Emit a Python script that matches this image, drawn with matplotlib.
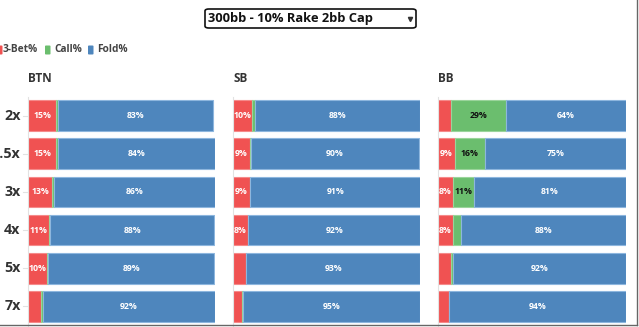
import matplotlib
matplotlib.use("Agg")
import matplotlib.pyplot as plt
from matplotlib.patches import FancyBboxPatch
from matplotlib.lines import Line2D

W, H = 639, 327
DPI = 100

sizes = ['2x', '2.5x', '3x', '4x', '5x', '7x']
positions = ['BTN', 'SB', 'BB']

btn_3bet = [15, 15, 13, 11, 10, 7]
btn_call = [1, 1, 1, 0.7, 0.7, 0.8]
btn_fold = [83, 84, 86, 88, 89, 92]

sb_3bet = [10, 9, 9, 8, 7, 5]
sb_call = [2, 0.6, 0.3, 0.2, 0.2, 0.1]
sb_fold = [88, 90, 91, 92, 93, 95]

bb_3bet = [7, 9, 8, 8, 7, 6]
bb_call = [29, 16, 11, 4, 1, 0]
bb_fold = [64, 75, 81, 88, 92, 94]

series_names = ['3-Bet%', 'Call%', 'Fold%']
title_text = '300bb - 10% Rake 2bb Cap'

data = {
    'BTN': [btn_3bet, btn_call, btn_fold],
    'SB': [sb_3bet, sb_call, sb_fold],
    'BB': [bb_3bet, bb_call, bb_fold],
}

RED = '#F05252'
GREEN = '#6BBE6E'
BLUE = '#4E86BD'
colors = [RED, GREEN, BLUE]
edges = ['#F58A8A', '#9AD49B', '#8DB6DE']
label_colors = ['white', '#111111', 'white']

plt.rcParams['font.family'] = ['Open Sans', 'DejaVu Sans']
plt.rcParams['font.weight'] = 'bold'

fig = plt.figure(figsize=(W / DPI, H / DPI), dpi=DPI)
fig.patch.set_facecolor('white')


def fx(x):
    return x / W


def fy(y):
    return 1 - y / H


panel_left = [28, 233, 438]
panel_width = [187, 187, 188]
top_px, bot_px = 96.5, 325.5

axes = []
for i, pos in enumerate(positions):
    ax = fig.add_axes([fx(panel_left[i]), fy(bot_px), panel_width[i] / W, (bot_px - top_px) / H])
    axes.append(ax)
    yvals = list(range(len(sizes)))
    left = [0.0] * len(sizes)
    for s, vals in enumerate(data[pos]):
        ax.barh(yvals, vals, left=left, height=0.8, color=colors[s],
                edgecolor=edges[s], linewidth=0.8)
        for r, v in enumerate(vals):
            if round(v) >= 8:
                ax.text(left[r] + v / 2, r, f"{round(v)}%", ha='center', va='center',
                        fontsize=6.3, fontweight='bold', color=label_colors[s])
        left = [a + b for a, b in zip(left, vals)]
    ax.set_xlim(0, 100)
    ax.set_ylim(len(sizes) - 0.5, -0.5)
    ax.set_xticks([])
    ax.set_yticks([])
    for sp in ['top', 'right', 'bottom']:
        ax.spines[sp].set_visible(False)
    ax.spines['left'].set_color('#E2E2E2')
    ax.spines['left'].set_linewidth(0.8)
    ax.patch.set_alpha(0)
    fig.text(fx(panel_left[i]), fy(79), pos, ha='left', va='center',
             fontsize=8.5, fontweight='bold', color='#333333')

for r, s in enumerate(sizes):
    axes[0].text(-0.04, r, s, transform=axes[0].get_yaxis_transform(),
                 ha='right', va='center', fontsize=10.3, fontweight='bold', color='#333333')
    axes[0].plot([-0.025, -0.005], [r, r], transform=axes[0].get_yaxis_transform(),
                 color='#E2E2E2', lw=0.8, clip_on=False)

leg_y = 50
legend_items = [(-3, 3), (45, 54), (88, 97)]
for (sx, tx), name, c in zip(legend_items, series_names, colors):
    fig.patches.append(FancyBboxPatch((fx(sx), fy(leg_y + 4.5)), 5.5 / W, 9 / H,
                                      boxstyle='round,pad=0,rounding_size=0.002',
                                      transform=fig.transFigure, facecolor=c,
                                      edgecolor='none'))
    fig.text(fx(tx), fy(leg_y), name, ha='left', va='center', fontsize=7.3,
             fontweight='bold', color='#444444')

fig.patches.append(FancyBboxPatch((fx(205), fy(28)), (416 - 205) / W, 19 / H,
                                  boxstyle='round,pad=0,rounding_size=0.006',
                                  transform=fig.transFigure, facecolor='white',
                                  edgecolor='#111111', linewidth=1.2))
fig.text(fx(208), fy(18.5), title_text, ha='left', va='center', fontsize=9.3,
         fontweight='bold', color='#111111')
fig.lines.append(Line2D([fx(410.5)], [fy(19)], marker='v', markersize=3.0,
                        color='#333333', transform=fig.transFigure))

fig.lines.append(Line2D([fx(637), fx(637)], [fy(0), fy(325)], color='#666666', lw=1,
                        transform=fig.transFigure))
fig.lines.append(Line2D([fx(0), fx(637)], [fy(325), fy(325)], color='#666666', lw=1,
                        transform=fig.transFigure))

fig.savefig('out.png', dpi=DPI, facecolor='white')
